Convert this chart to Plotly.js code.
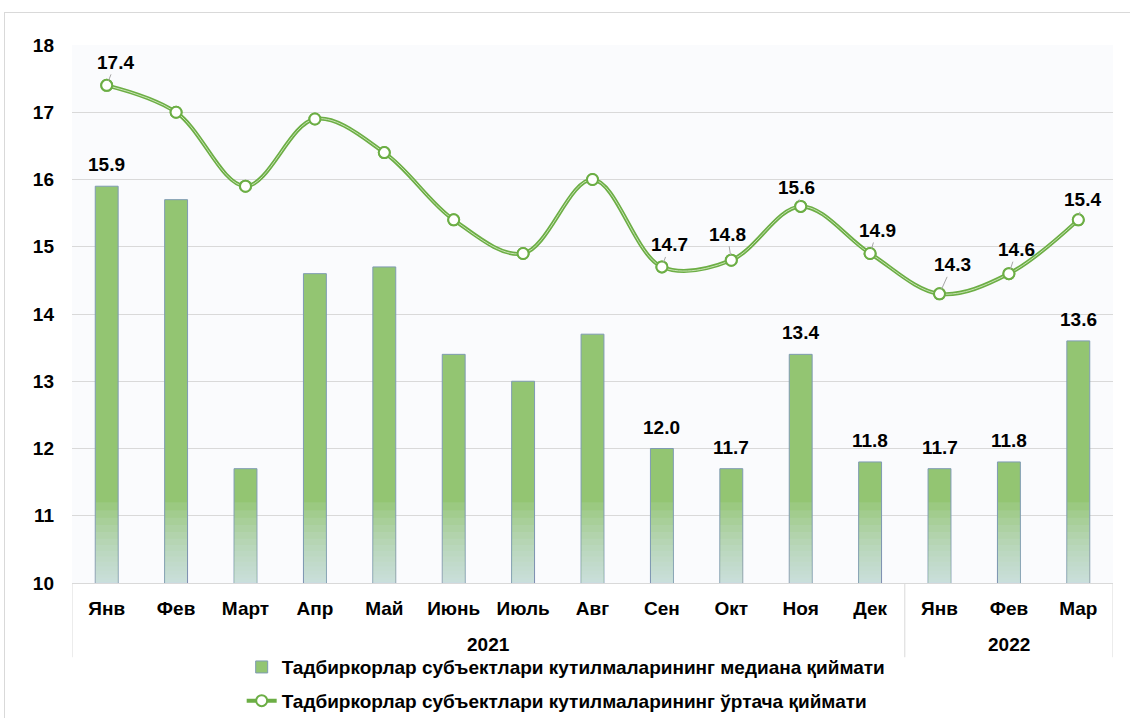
<!DOCTYPE html>
<html><head><meta charset="utf-8">
<script src="https://cdn.plot.ly/plotly-3.0.1.min.js"></script>
<style>
html,body{margin:0;padding:0;background:#fff;}
#wrap{position:relative;width:1130px;height:718px;}
#chart{position:absolute;left:0;top:0;width:1130px;height:718px;}
#frame{position:absolute;left:4px;top:12px;width:1130px;height:710px;border:1px solid #D9D9D9;pointer-events:none;}
</style></head>
<body>
<div id="wrap"><div id="chart"></div><div id="frame"></div></div>
<script>
const months = ['Янв','Фев','Март','Апр','Май','Июнь','Июль','Авг','Сен','Окт','Ноя','Дек','Янв','Фев','Мар'];
const years = ['2021','2021','2021','2021','2021','2021','2021','2021','2021','2021','2021','2021','2022','2022','2022'];
const medianValues = [15.9,15.7,11.7,14.6,14.7,13.4,13.0,13.7,12.0,11.7,13.4,11.8,11.7,11.8,13.6];
const meanValues = [17.4,17.0,15.9,16.9,16.4,15.4,14.9,16.0,14.7,14.8,15.6,14.9,14.3,14.6,15.4];
const labeledIdx = [0,8,9,10,11,12,13,14];
const seriesNames = ['Тадбиркорлар субъектлари кутилмаларининг медиана қиймати','Тадбиркорлар субъектлари кутилмаларининг ўртача қиймати'];

const FONT = 'Liberation Sans, Arial, sans-serif';
const baseVal = 10;
const idx = months.map((m,i)=>i);
const barW = 0.33;
const traces = [];

traces.push({
  type:'bar', x:idx, y:medianValues.map(v=>v-baseVal), base:baseVal, width:barW,
  name:seriesNames[0], legendgroup:'a',
  marker:{color:'#93C572', line:{color:'#7F9BB3', width:1}},
  hoverinfo:'skip'
});
// gradient decoration at bar bottoms (style only)
const nSteps = 16;
for(let k=1;k<=nSteps;k++){
  const h = 1.2*Math.pow(k/nSteps,1.6);
  traces.push({
    type:'bar', x:idx, y:medianValues.map(v=>Math.min(h, v-baseVal)), base:baseVal, width:barW-0.014,
    showlegend:false, hoverinfo:'skip',
    marker:{color:'rgba(210,228,242,0.12)', line:{width:0}}
  });
}

traces.push({
  type:'scatter', mode:'lines+markers', x:idx, y:meanValues, name:seriesNames[1], legendgroup:'b',
  line:{color:'#6CAE45', width:4, shape:'spline', smoothing:1},
  marker:{size:11, color:'#FFFFFF', line:{color:'#6CAE45', width:2}},
  hoverinfo:'skip'
});
traces.push({
  type:'scatter', mode:'lines', x:idx, y:meanValues, showlegend:false,
  line:{color:'#C9E3B5', width:1, shape:'spline', smoothing:1}, hoverinfo:'skip'
});
traces.push({
  type:'scatter', mode:'markers', x:idx, y:meanValues, showlegend:false,
  marker:{size:11, color:'#FFFFFF', line:{color:'#6CAE45', width:2}}, hoverinfo:'skip'
});

const lineOffsets = {0:[9,-23],8:[8,-22],9:[-4,-26],10:[-4,-19],11:[7,-23],12:[13,-29],13:[8,-24],14:[4,-20]};
const annotations = [];
const lblFont = {family:FONT, size:19, color:'#000'};
labeledIdx.forEach(i=>{
  annotations.push({
    x:i, y:medianValues[i], xref:'x', yref:'y', text:'<b>'+medianValues[i].toFixed(1)+'</b>',
    showarrow:false, yanchor:'bottom', yshift:9, font:lblFont
  });
  const o = lineOffsets[i];
  annotations.push({
    x:i, y:meanValues[i], xref:'x', yref:'y', text:'<b>'+meanValues[i].toFixed(1)+'</b>',
    showarrow:true, arrowhead:0, arrowwidth:1, arrowcolor:'#A6A6A6', ax:o[0], ay:o[1],
    standoff:5, startstandoff:0, font:lblFont
  });
});

// year group labels and dividers derived from the years array
const shapes = [];
const groups = [];
years.forEach((y,i)=>{
  if(i===0 || years[i-1]!==y) groups.push({year:y, start:i, end:i});
  else groups[groups.length-1].end = i;
});
const divBottom = -0.138;
shapes.push({type:'line', xref:'x', yref:'paper', x0:groups[0].start-0.5, x1:groups[0].start-0.5, y0:0, y1:divBottom, line:{color:'#D9D9D9', width:1}});
groups.forEach(g=>{
  shapes.push({type:'line', xref:'x', yref:'paper', x0:g.end+0.5, x1:g.end+0.5, y0:0, y1:divBottom, line:{color:'#D9D9D9', width:1}});
  annotations.push({
    x:(g.start+g.end)/2, xref:'x', y:-0.115, yref:'paper', text:'<b>'+g.year+'</b>',
    showarrow:false, font:{family:FONT, size:19, color:'#000'}, yanchor:'middle'
  });
});

const layout = {
  width:1130, height:718,
  margin:{l:72, r:17, t:45, b:135, autoexpand:false},
  paper_bgcolor:'rgba(0,0,0,0)', plot_bgcolor:'#FAFBFD',
  barmode:'overlay',
  font:{family:FONT, color:'#000'},
  xaxis:{
    type:'linear', range:[-0.5, months.length-0.5], tickvals:idx, ticktext:months.map(m=>'<b>'+m+'</b>'),
    showgrid:false, zeroline:false, showline:true, linecolor:'#D9D9D9', linewidth:1, ticks:'',
    tickfont:{size:19, family:FONT, color:'#000'}, ticklabelstandoff:8
  },
  yaxis:{
    range:[10,18], dtick:1, showgrid:true, gridcolor:'#D9D9D9', zeroline:false, showline:false,
    tickfont:{size:19, family:FONT, weight:'bold', color:'#000'},
    ticklabelstandoff:17
  },
  showlegend:true,
  legend:{
    orientation:'v', x:0.163, xanchor:'left', y:-0.121, yanchor:'top',
    traceorder:'grouped', tracegroupgap:6,
    font:{size:19, family:FONT, weight:'bold', color:'#000'},
    bgcolor:'rgba(0,0,0,0)'
  },
  shapes:shapes,
  annotations:annotations
};
Plotly.newPlot('chart', traces, layout, {displayModeBar:false, staticPlot:true});
</script>
</body></html>
